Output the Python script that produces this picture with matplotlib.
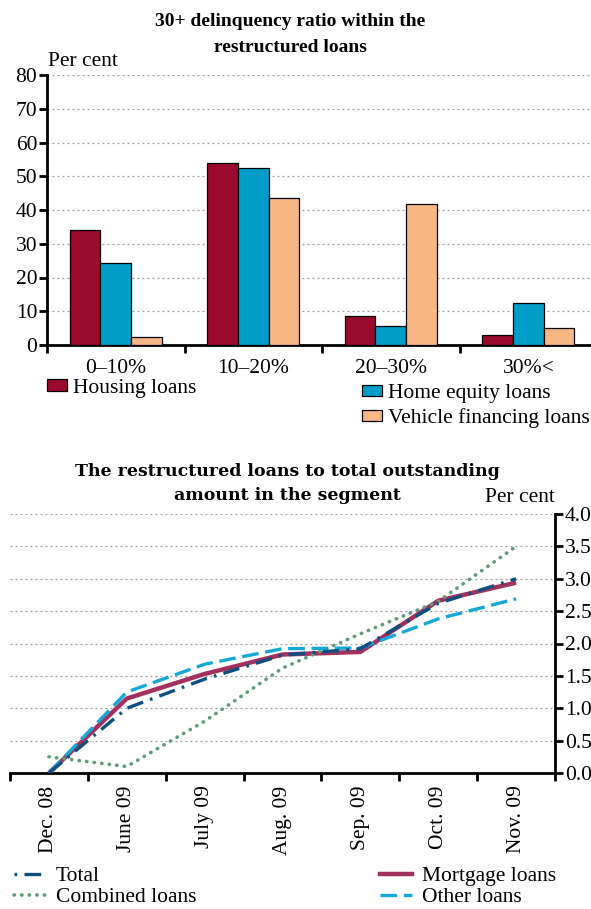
import matplotlib
matplotlib.use("Agg")
import matplotlib.pyplot as plt
import numpy as np
from matplotlib.patches import Patch
from matplotlib.lines import Line2D

plt.rcParams['font.family'] = ['Liberation Serif', 'DejaVu Serif']

# ---- data: top chart ----
bands = ["0–10%", "10–20%", "20–30%", "30%<"]
housing = [34.1, 53.8, 8.6, 3.1]
home_equity = [24.3, 52.5, 5.7, 12.3]
vehicle = [2.4, 43.5, 41.9, 4.9]
top_title = ["30+ delinquency ratio within the", "restructured loans"]

# ---- data: bottom chart ----
months = ["Dec. 08", "June 09", "July 09", "Aug. 09", "Sep. 09", "Oct. 09", "Nov. 09"]
total = [0.0, 1.0, 1.45, 1.82, 1.92, 2.62, 3.0]
mortgage = [0.0, 1.15, 1.53, 1.83, 1.87, 2.66, 2.94]
combined = [0.25, 0.1, 0.8, 1.62, 2.15, 2.65, 3.5]
other = [0.0, 1.25, 1.68, 1.92, 1.93, 2.38, 2.69]
bottom_title = ["The restructured loans to total outstanding", "amount in the segment"]

C_HOUS = "#990A2C"
C_EQ = "#009DC8"
C_VEH = "#F7B784"
C_TOT = "#0D4F7E"
C_MORT = "#A2305F"
C_COMB = "#5E9C7C"
C_OTH = "#14A8D6"
GRID = "#9A9A9A"

W, H = 591, 909
fig = plt.figure(figsize=(W / 100, H / 100), dpi=100)

def fx(px):
    return px / W

def fy(py):
    return 1 - py / H

FS = 15.5

# ================= TOP CHART =================
ax1 = fig.add_axes([fx(47), fy(345), fx(597) - fx(47), fy(75) - fy(345)])
x = np.arange(len(bands))
bw = 0.222
ax1.bar(x - bw, housing, bw, color=C_HOUS, edgecolor="black", linewidth=0.9, zorder=3)
ax1.bar(x, home_equity, bw, color=C_EQ, edgecolor="black", linewidth=0.9, zorder=3)
ax1.bar(x + bw, vehicle, bw, color=C_VEH, edgecolor="black", linewidth=0.9, zorder=3)
ax1.set_xlim(-0.5, 3.5)
ax1.set_ylim(0, 80)
ax1.set_yticks(np.arange(0, 81, 10))
ax1.set_yticklabels([str(v) for v in range(0, 81, 10)], fontsize=FS)
ax1.set_xticks(x)
ax1.set_xticklabels(bands, fontsize=FS)
ax1.tick_params(axis="x", which="major", length=0, pad=10)
ax1.set_xticks(np.arange(-0.5, 3.6, 1), minor=True)
ax1.tick_params(axis="x", which="minor", length=6, width=2, direction="out")
ax1.tick_params(axis="y", length=6, width=2, direction="out", pad=1)
for s in ["top", "right"]:
    ax1.spines[s].set_visible(False)
for s in ["left", "bottom"]:
    ax1.spines[s].set_linewidth(2)
ax1.yaxis.grid(True, linestyle=(0, (1.5, 2.5)), color=GRID, linewidth=0.9)
ax1.set_axisbelow(True)
ax1.patch.set_alpha(0)

fig.text(fx(290), fy(22), top_title[0], ha="center", va="center", fontsize=14,
         fontweight="bold")
fig.text(fx(290), fy(47), top_title[1], ha="center", va="center", fontsize=14,
         fontweight="bold")
fig.text(fx(48), fy(61), "Per cent", ha="left", va="center", fontsize=FS)

leg_kw = dict(frameon=False, fontsize=FS, handlelength=0.95, handleheight=0.45,
              handletextpad=0.25, borderpad=0, borderaxespad=0, labelspacing=0.25)
fig.legend(handles=[Patch(facecolor=C_HOUS, edgecolor="black", linewidth=0.9)],
           labels=["Housing loans"], loc="center left",
           bbox_to_anchor=(fx(47), fy(388)), **leg_kw)
fig.legend(handles=[Patch(facecolor=C_EQ, edgecolor="black", linewidth=0.9),
                    Patch(facecolor=C_VEH, edgecolor="black", linewidth=0.9)],
           labels=["Home equity loans", "Vehicle financing loans"],
           loc="upper left", bbox_to_anchor=(fx(362), fy(384)), **leg_kw)

# ================= BOTTOM CHART =================
ax2 = fig.add_axes([fx(10), fy(773), fx(555) - fx(10), fy(514) - fy(773)])
xm = np.arange(len(months))
ax2.plot(xm, mortgage, color=C_MORT, linewidth=3.2, solid_capstyle="butt", zorder=3)
ax2.plot(xm, combined, color=C_COMB, linewidth=2.6, linestyle=(0, (0.1, 2.0)),
         dash_capstyle="round", zorder=4)
ax2.plot(xm, other, color=C_OTH, linewidth=2.4, linestyle=(0, (5, 2)), zorder=5)
ax2.plot(xm, total, color=C_TOT, linewidth=2.4, linestyle=(0, (5, 2.2, 0.8, 2.2)), zorder=6)
ax2.set_xlim(-0.5, 6.5)
ax2.set_ylim(0, 4.0)
ax2.yaxis.tick_right()
ax2.set_yticks(np.arange(0, 4.01, 0.5))
ax2.set_yticklabels([f"{v:.1f}" for v in np.arange(0, 4.01, 0.5)], fontsize=FS)
ax2.set_xticks(xm)
ax2.set_xticklabels(months, fontsize=FS, rotation=90)
ax2.tick_params(axis="x", which="major", length=0, pad=9)
ax2.set_xticks(np.arange(-0.5, 6.6, 1), minor=True)
ax2.tick_params(axis="x", which="minor", length=6, width=2, direction="out")
ax2.tick_params(axis="y", length=6, width=2, direction="out", pad=1)
for s in ["top", "left"]:
    ax2.spines[s].set_visible(False)
for s in ["right", "bottom"]:
    ax2.spines[s].set_linewidth(2)
ax2.yaxis.grid(True, linestyle=(0, (1.5, 2.5)), color=GRID, linewidth=0.9)
ax2.set_axisbelow(True)
ax2.patch.set_alpha(0)

fig.text(fx(287), fy(471), bottom_title[0], ha="center", va="center", fontsize=12.5,
         fontweight="bold", family=["DejaVu Serif"])
fig.text(fx(287), fy(495), bottom_title[1], ha="center", va="center", fontsize=12.5,
         fontweight="bold", family=["DejaVu Serif"])
fig.text(fx(555), fy(498), "Per cent", ha="right", va="center", fontsize=FS)

leg2_kw = dict(frameon=False, fontsize=FS, handlelength=1.5, handletextpad=0.45,
               borderpad=0, borderaxespad=0, labelspacing=0.05)
fig.legend(handles=[Line2D([], [], color=C_TOT, linewidth=2.4,
                           linestyle=(0, (0.8, 2.2, 5, 2.2))),
                    Line2D([], [], color=C_COMB, linewidth=2.6,
                           linestyle=(0, (0.1, 2.0)), dash_capstyle="round")],
           labels=["Total", "Combined loans"], loc="upper left",
           bbox_to_anchor=(fx(14), fy(866)), **leg2_kw)
fig.legend(handles=[Line2D([], [], color=C_MORT, linewidth=3.2),
                    Line2D([], [], color=C_OTH, linewidth=2.4,
                           linestyle=(0, (5, 2)))],
           labels=["Mortgage loans", "Other loans"], loc="upper left",
           bbox_to_anchor=(fx(380), fy(866)), **leg2_kw)

fig.savefig("out.png", dpi=100)
